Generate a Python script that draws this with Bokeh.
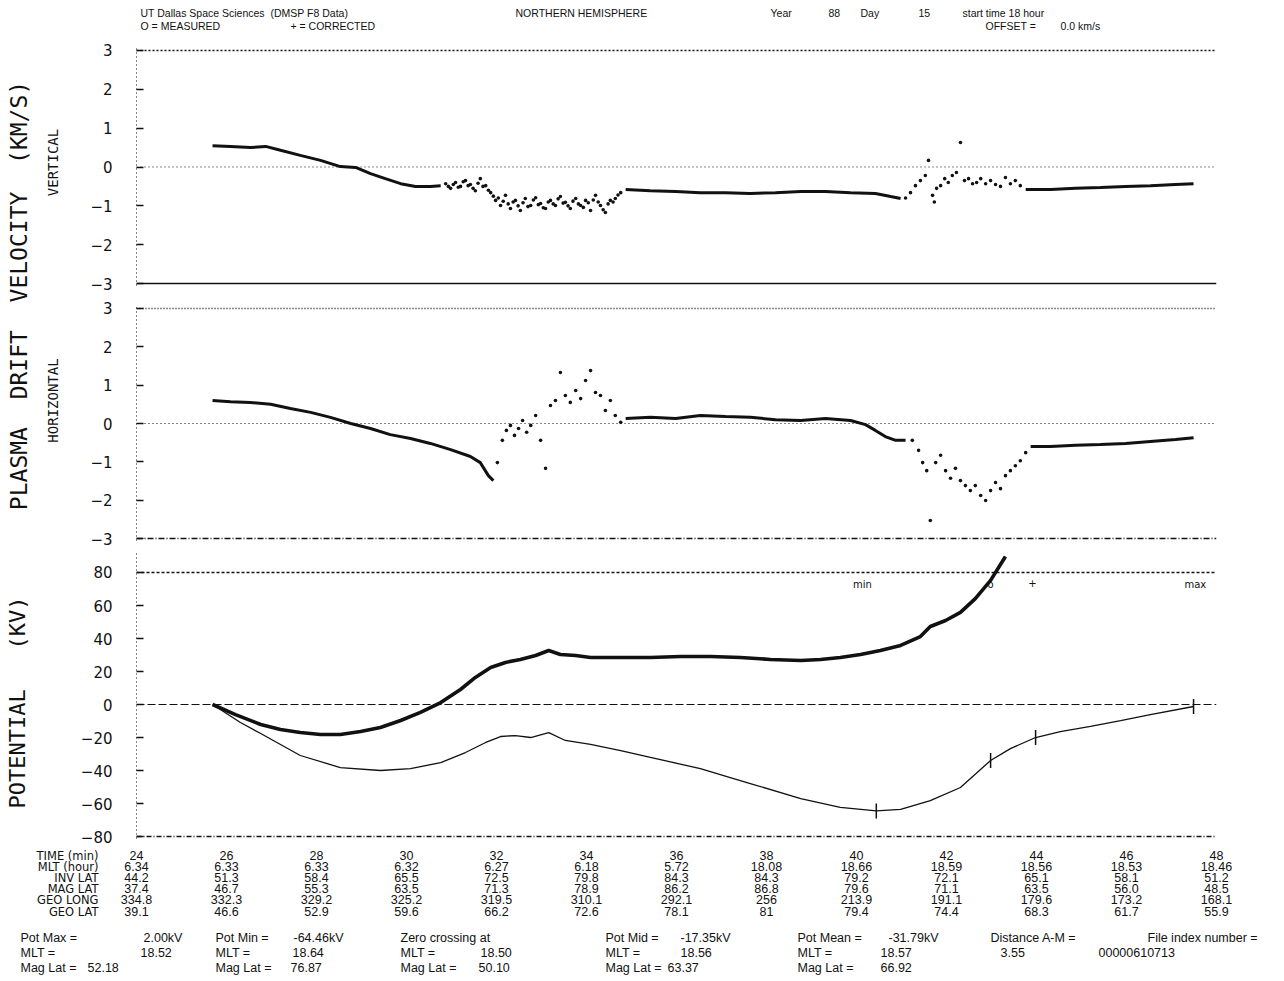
import math
from bokeh.plotting import figure
from bokeh.models import Range1d, Span, FixedTicker, ColumnDataSource
from bokeh.layouts import column, row
from bokeh.embed import file_html
from bokeh.resources import INLINE
from bokeh.core.properties import value

FONT = "DejaVu Sans"
TFONT = "Liberation Sans"
MONO = "DejaVu Sans Mono"
INK = "#111111"
NB = "\u00a0"

# ------------------------------------------------------------------ data
time_ticks = [24, 26, 28, 30, 32, 34, 36, 38, 40, 42, 44, 46, 48]
time_labels = ["24", "26", "28", "30", "32", "34", "36", "38", "40", "42", "44", "46", "48"]
mlt_hour = ["6.34", "6.33", "6.33", "6.32", "6.27", "6.18", "5.72", "18.08", "18.66", "18.59", "18.56", "18.53", "18.46"]
inv_lat = ["44.2", "51.3", "58.4", "65.5", "72.5", "79.8", "84.3", "84.3", "79.2", "72.1", "65.1", "58.1", "51.2"]
mag_lat = ["37.4", "46.7", "55.3", "63.5", "71.3", "78.9", "86.2", "86.8", "79.6", "71.1", "63.5", "56.0", "48.5"]
geo_long = ["334.8", "332.3", "329.2", "325.2", "319.5", "310.1", "292.1", "256", "213.9", "191.1", "179.6", "173.2", "168.1"]
geo_lat = ["39.1", "46.6", "52.9", "59.6", "66.2", "72.6", "78.1", "81", "79.4", "74.4", "68.3", "61.7", "55.9"]
row_names = ["TIME (min)", "MLT (hour)", "INV LAT", "MAG LAT", "GEO LONG", "GEO LAT"]

vel_ticks = [-3, -2, -1, 0, 1, 2, 3]
pot_ticks = [-80, -60, -40, -20, 0, 20, 40, 60, 80]

# vertical drift velocity (km/s)
vert_t1 = [25.69, 26.09, 26.53, 26.87, 27.20, 27.64, 28.09, 28.53, 28.87, 29.20, 29.53, 29.87, 30.20, 30.53, 30.76]
vert_v1 = [0.55, 0.53, 0.50, 0.53, 0.43, 0.30, 0.17, 0.01, -0.01, -0.17, -0.30, -0.43, -0.50, -0.50, -0.48]
vert_ts1 = [30.87, 30.93, 30.98, 31.04, 31.09, 31.15, 31.20, 31.26, 31.31, 31.37, 31.42, 31.48, 31.53, 31.59,
            31.64, 31.70, 31.76, 31.82, 31.87, 31.93, 31.98, 32.04, 32.09, 32.15, 32.20, 32.26, 32.31, 32.37,
            32.42, 32.48, 32.53, 32.59, 32.64, 32.70, 32.76, 32.82, 32.87, 32.93, 32.98, 33.04, 33.09, 33.15,
            33.20, 33.26, 33.31, 33.37, 33.42, 33.48, 33.53, 33.59, 33.64, 33.70, 33.76, 33.82, 33.87, 33.93,
            33.98, 34.04, 34.09, 34.15, 34.20, 34.26, 34.31, 34.37, 34.42, 34.48, 34.53, 34.59, 34.64, 34.70, 34.76]
vert_vs1 = [-0.43, -0.50, -0.55, -0.45, -0.40, -0.52, -0.50, -0.38, -0.35, -0.48, -0.45, -0.55, -0.61, -0.42,
            -0.30, -0.50, -0.48, -0.60, -0.66, -0.75, -0.86, -0.80, -0.99, -0.88, -0.73, -0.95, -1.07, -0.90,
            -0.86, -1.00, -1.12, -0.92, -0.81, -1.02, -0.99, -0.85, -0.79, -0.97, -0.94, -1.05, -1.07, -0.90,
            -0.86, -0.95, -0.99, -0.82, -0.76, -0.93, -0.91, -1.00, -1.07, -0.88, -0.81, -0.95, -0.99, -1.04,
            -0.86, -0.92, -1.12, -0.85, -0.73, -0.90, -0.99, -1.10, -1.17, -0.95, -0.86, -0.90, -0.81, -0.72, -0.66]
vert_t2 = [34.87, 35.42, 35.98, 36.53, 37.09, 37.64, 38.20, 38.76, 39.31, 39.87, 40.42, 40.76, 40.98]
vert_v2 = [-0.58, -0.61, -0.63, -0.66, -0.66, -0.68, -0.66, -0.63, -0.63, -0.66, -0.68, -0.76, -0.81]
vert_ts2 = [41.09, 41.20, 41.31, 41.42, 41.53, 41.60, 41.69, 41.73, 41.78, 41.87, 41.96, 42.04, 42.13, 42.22,
            42.31, 42.40, 42.49, 42.58, 42.67, 42.76, 42.87, 42.98, 43.09, 43.20, 43.31, 43.42, 43.53, 43.64]
vert_vs2 = [-0.80, -0.66, -0.48, -0.35, -0.22, 0.17, -0.73, -0.90, -0.55, -0.48, -0.30, -0.40, -0.22, -0.14,
            0.63, -0.35, -0.30, -0.43, -0.40, -0.30, -0.43, -0.35, -0.45, -0.50, -0.27, -0.43, -0.35, -0.48]
vert_t3 = [43.76, 44.31, 44.87, 45.42, 45.98, 46.53, 47.09, 47.49]
vert_v3 = [-0.58, -0.58, -0.55, -0.53, -0.50, -0.48, -0.45, -0.43]

# horizontal drift velocity (km/s)
horz_t1 = [25.69, 26.09, 26.53, 26.98, 27.42, 27.87, 28.31, 28.76, 29.20, 29.64, 30.09, 30.53, 30.98, 31.42, 31.64, 31.82, 31.93]
horz_v1 = [0.60, 0.57, 0.55, 0.50, 0.39, 0.29, 0.16, 0.00, -0.13, -0.29, -0.39, -0.52, -0.68, -0.86, -1.02, -1.36, -1.49]
horz_ts1 = [32.02, 32.13, 32.22, 32.31, 32.40, 32.49, 32.58, 32.67, 32.76, 32.87, 32.98, 33.09, 33.20, 33.31,
            33.42, 33.53, 33.64, 33.76, 33.87, 33.98, 34.09, 34.20, 34.31, 34.42, 34.53, 34.64, 34.76]
horz_vs1 = [-1.02, -0.44, -0.18, -0.05, -0.31, -0.13, 0.08, -0.23, -0.05, 0.21, -0.44, -1.17, 0.47, 0.60,
            1.33, 0.73, 0.55, 0.86, 0.65, 1.12, 1.38, 0.81, 0.73, 0.34, 0.60, 0.21, 0.03]
horz_t2 = [34.87, 35.42, 35.98, 36.53, 37.09, 37.64, 38.20, 38.76, 39.31, 39.87, 40.20, 40.42, 40.64, 40.87, 41.09]
horz_v2 = [0.13, 0.16, 0.13, 0.21, 0.18, 0.16, 0.10, 0.08, 0.13, 0.08, -0.03, -0.18, -0.34, -0.44, -0.44]
horz_ts2 = [41.24, 41.38, 41.47, 41.56, 41.64, 41.76, 41.87, 41.98, 42.09, 42.20, 42.31, 42.42,
            42.53, 42.64, 42.76, 42.87, 42.98, 43.09, 43.20, 43.31, 43.42, 43.53, 43.64, 43.76]
horz_vs2 = [-0.44, -0.70, -1.02, -1.23, -2.53, -1.02, -0.83, -1.23, -1.43, -1.17, -1.49, -1.62,
            -1.75, -1.62, -1.88, -2.01, -1.75, -1.54, -1.70, -1.36, -1.23, -1.10, -0.97, -0.76]
horz_t3 = [43.87, 44.31, 44.87, 45.42, 45.98, 46.53, 47.09, 47.49]
horz_v3 = [-0.60, -0.60, -0.57, -0.55, -0.52, -0.47, -0.42, -0.37]

# electric potential (kV)
pot_meas_t = [25.69, 26.20, 26.76, 27.20, 27.64, 28.09, 28.53, 28.98, 29.42, 29.87, 30.31, 30.76, 31.20, 31.53,
              31.87, 32.20, 32.53, 32.87, 33.16, 33.42, 33.76, 34.09, 34.76, 35.42, 36.09, 36.76, 37.42, 38.09,
              38.76, 39.20, 39.64, 40.09, 40.53, 40.98, 41.42, 41.64, 41.98, 42.31, 42.64, 42.98, 43.31]
pot_meas_v = [0.0, -6.1, -12.1, -15.2, -17.0, -18.2, -18.2, -16.4, -13.9, -9.7, -4.8, 1.2, 9.1, 16.4,
              22.4, 25.5, 27.3, 29.7, 32.7, 30.3, 29.7, 28.5, 28.5, 28.5, 29.1, 29.1, 28.5, 27.3,
              26.7, 27.3, 28.5, 30.3, 32.7, 35.8, 41.2, 47.3, 50.9, 55.8, 64.2, 75.2, 89.7]
pot_corr_t = [25.69, 26.31, 26.76, 27.64, 28.53, 29.42, 30.09, 30.76, 31.31, 31.76, 32.09, 32.42, 32.76, 33.16,
              33.53, 34.09, 34.76, 35.42, 36.53, 37.64, 38.76, 39.64, 40.44, 40.98, 41.64, 42.31, 42.98, 43.42,
              43.98, 44.53, 45.20, 45.87, 46.53, 47.49]
pot_corr_v = [0.0, -10.9, -17.6, -30.9, -38.2, -40.0, -38.8, -35.2, -29.1, -23.0, -19.4, -18.8, -20.0, -17.0,
              -21.8, -24.2, -27.9, -32.1, -38.8, -47.9, -57.0, -62.4, -64.5, -63.6, -58.2, -50.3, -33.9, -26.7,
              -20.0, -16.4, -13.3, -9.7, -6.1, -1.2]
mark_t = [40.44, 42.98, 43.98, 47.49]
mark_v = [-64.5, -33.9, -20.0, -1.2]
scale_names = ["min", "o", "+", "max"]
scale_t = [40.13, 42.98, 43.91, 47.53]
scale_v = [72.5, 72.5, 73.5, 72.5]

header_line1 = ["UT Dallas Space Sciences", "(DMSP F8 Data)", "NORTHERN HEMISPHERE", "Year", "88", "Day", "15", "start time  18 hour"]
header_line1_px = [140, 270, 515, 770, 828, 860, 918, 962]
header_line2 = ["O = MEASURED", "+ = CORRECTED", "OFFSET =", "0.0 km/s"]
header_line2_px = [140, 290, 985, 1060]

info_labels = [["Pot Max =", "MLT =", "Mag Lat ="],
               ["Pot Min =", "MLT =", "Mag Lat ="],
               ["Zero crossing at", "MLT =", "Mag Lat ="],
               ["Pot Mid =", "MLT =", "Mag Lat ="],
               ["Pot Mean =", "MLT =", "Mag Lat ="],
               ["Distance A-M =", "", ""],
               ["File index number =", "", ""]]
info_values = [["2.00kV", "18.52", "52.18"],
               ["-64.46kV", "18.64", "76.87"],
               ["", "18.50", "50.10"],
               ["-17.35kV", "18.56", "63.37"],
               ["-31.79kV", "18.57", "66.92"],
               ["", "3.55", ""],
               ["", "00000610713", ""]]
info_label_px = [20, 215, 400, 605, 797, 990, 1147]
info_value_px = [[143, 140, 87], [293, 292, 290], [0, 480, 478], [680, 680, 667],
                 [888, 880, 880], [0, 1000, 0], [0, 1098, 0]]

side_labels = ["PLASMA" + NB * 2 + "DRIFT" + NB * 2 + "VELOCITY" + NB * 2 + "(KM/S)",
               "VERTICAL", "HORIZONTAL", "POTENTIAL" + NB * 3 + "(KV)"]

# ------------------------------------------------------------------ layout helpers
PXMIN = 45.0          # pixels per minute
FRAME_LEFT = 136      # page x of time 24


def tx(px):
    return 24 + (px - FRAME_LEFT) / PXMIN


xr = Range1d(24, 48)
full_xr = Range1d(tx(0), tx(1276))


def clean(p):
    p.outline_line_color = None
    p.grid.grid_line_color = None
    p.background_fill_color = "white"
    p.border_fill_color = "white"
    return p


def panel(h, top, bottom, yr, ticks):
    p = figure(width=1204, height=h, x_range=xr, y_range=yr, x_axis_location=None,
               toolbar_location=None, output_backend="svg",
               min_border_left=64, min_border_right=60, min_border_top=top, min_border_bottom=bottom)
    clean(p)
    ax = p.yaxis[0]
    ax.ticker = FixedTicker(ticks=ticks)
    ax.major_tick_in = 7
    ax.major_tick_out = 0
    ax.minor_tick_line_color = None
    ax.axis_line_dash = "1 3"
    ax.axis_line_color = INK
    ax.major_tick_line_color = INK
    ax.major_tick_line_width = 1.5
    ax.major_label_standoff = 24
    ax.major_label_text_font = FONT
    ax.major_label_text_font_size = "15px"
    ax.major_label_text_color = INK
    return p


def bare(w, h, xrange, yrange):
    p = figure(width=w, height=h, x_range=xrange, y_range=yrange, x_axis_location=None,
               y_axis_location=None, toolbar_location=None, output_backend="svg", min_border=0)
    return clean(p)


# page rows: header 0-40, V 40-298, H 298-550, P 550-846, footer 846-975
# ------------------------------------------------------------------ vertical panel
fV = panel(258, 8, 13, Range1d(-3.0515, 3.0515), vel_ticks)
fV.add_layout(Span(location=3, dimension="width", line_color=INK, line_width=1.6, line_dash="2 2"))
fV.add_layout(Span(location=-3, dimension="width", line_color=INK, line_width=1.6))
fV.add_layout(Span(location=0, dimension="width", line_color=INK, line_width=1, line_dash="1 3"))
for tt, vv in ((vert_t1, vert_v1), (vert_t2, vert_v2), (vert_t3, vert_v3)):
    fV.line(tt, vv, line_color=INK, line_width=3)
for tt, vv in ((vert_ts1, vert_vs1), (vert_ts2, vert_vs2)):
    fV.scatter(tt, vv, marker="circle", size=3.6, fill_color=INK, line_color=None)

# ------------------------------------------------------------------ horizontal panel
fH = panel(252, 8, 10, Range1d(-3.052, 3.052), vel_ticks)
fH.add_layout(Span(location=3, dimension="width", line_color=INK, line_width=1.4, line_dash="1 2"))
fH.add_layout(Span(location=-3, dimension="width", line_color=INK, line_width=1.6, line_dash="6 2 1 2"))
fH.add_layout(Span(location=0, dimension="width", line_color=INK, line_width=1, line_dash="1 3"))
for tt, vv in ((horz_t1, horz_v1), (horz_t2, horz_v2), (horz_t3, horz_v3)):
    fH.line(tt, vv, line_color=INK, line_width=3)
for tt, vv in ((horz_ts1, horz_vs1), (horz_ts2, horz_vs2)):
    fH.scatter(tt, vv, marker="circle", size=3.6, fill_color=INK, line_color=None)

# ------------------------------------------------------------------ potential panel
fP = panel(296, 2, 8, Range1d(-81.2, 92.12), pot_ticks)
fP.add_layout(Span(location=80, dimension="width", line_color=INK, line_width=1.6, line_dash="3 2"))
fP.add_layout(Span(location=-80, dimension="width", line_color=INK, line_width=1.4, line_dash="5 2 1 2"))
fP.add_layout(Span(location=0, dimension="width", line_color=INK, line_width=1.2, line_dash="8 3"))
fP.line(pot_meas_t, pot_meas_v, line_color=INK, line_width=3.6)
fP.line(pot_corr_t, pot_corr_v, line_color=INK, line_width=1.3)
fP.scatter(mark_t, mark_v, marker="dash", angle=math.pi / 2, size=15, line_color=INK, line_width=1.5)
fP.text(x=scale_t, y=scale_v, text=scale_names, text_font=value(FONT), text_font_size="10px",
        text_align="center", text_baseline="middle", text_color=INK)

# ------------------------------------------------------------------ rotated side labels (page y 40-846)
strip = bare(72, 806, Range1d(0, 72), Range1d(0, 806))
side_src = ColumnDataSource(dict(
    x=[18, 52, 52, 17],
    y=[551, 684, 446, 144],
    text=side_labels,
    size=["23px", "14px", "14px", "22px"],
))
strip.text(x="x", y="y", text="text", source=side_src, angle=math.pi / 2, text_font=value(MONO),
           text_font_size="size", text_align="center", text_baseline="middle", text_color=INK)

# ------------------------------------------------------------------ header
header = bare(1276, 40, full_xr, Range1d(0, 40))
header.text(x=[tx(v) for v in header_line1_px], y=[28] * len(header_line1), text=header_line1,
            text_font=value(TFONT), text_font_size="10.5px", text_align="left", text_baseline="middle",
            text_color=INK)
header.text(x=[tx(v) for v in header_line2_px], y=[15] * len(header_line2), text=header_line2,
            text_font=value(TFONT), text_font_size="10.5px", text_align="left", text_baseline="middle",
            text_color=INK)

# ------------------------------------------------------------------ footer (table + summary)
footer = bare(1276, 129, full_xr, Range1d(0, 129))
row_y = [120, 109, 98, 87, 76, 64]
table_rows = [time_labels, mlt_hour, inv_lat, mag_lat, geo_long, geo_lat]
tx_, ty_, tt_ = [], [], []
for yy, vals in zip(row_y, table_rows):
    for t, s in zip(time_ticks, vals):
        tx_.append(t)
        ty_.append(yy)
        tt_.append(s)
footer.text(x=tx_, y=ty_, text=tt_, text_font=value(TFONT), text_font_size="12.5px",
            text_align="center", text_baseline="middle", text_color=INK)
footer.text(x=[tx(98)] * len(row_names), y=row_y, text=row_names, text_font=value(FONT),
            text_font_size="11.5px", text_align="right", text_baseline="middle", text_color=INK)

info_y = [38, 23, 8]
lx, ly, lt = [], [], []
for c, labels in enumerate(info_labels):
    for r, s in enumerate(labels):
        if s:
            lx.append(tx(info_label_px[c]))
            ly.append(info_y[r])
            lt.append(s)
        v = info_values[c][r]
        if v:
            lx.append(tx(info_value_px[c][r]))
            ly.append(info_y[r])
            lt.append(v)
footer.text(x=lx, y=ly, text=lt, text_font=value(TFONT), text_font_size="12.5px",
            text_align="left", text_baseline="middle", text_color=INK)

layout = column(header, row(strip, column(fV, fH, fP)), footer)
open("out.html", "w").write(file_html(layout, INLINE))
